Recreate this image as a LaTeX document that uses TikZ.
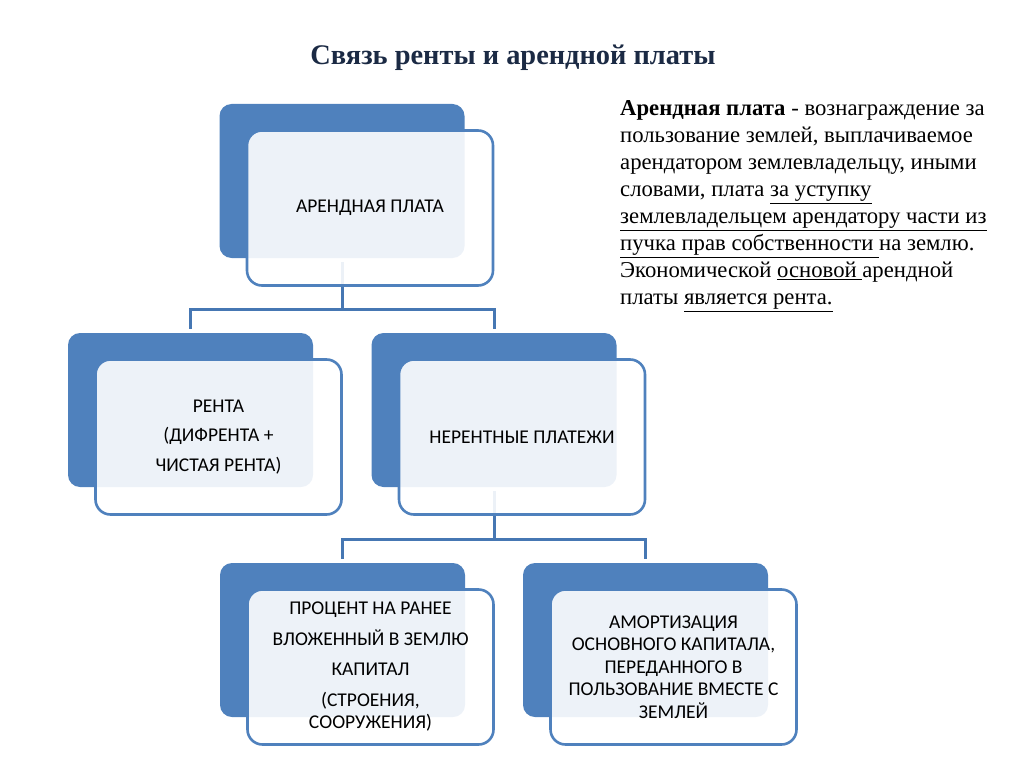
\documentclass[tikz,border=0pt]{standalone}
\usepackage{fontspec}
\setmainfont{Liberation Serif}
\setsansfont{Carlito}
\usepackage{tikz}
\usetikzlibrary{positioning, calc}
\definecolor{sblue}{HTML}{4F81BD}
\definecolor{sline}{HTML}{4677B3}
\definecolor{stitle}{HTML}{1B2A44}
\tikzset{
  backbox/.style={
    fill=sblue, draw=none, rounded corners=12pt, inner sep=0pt,
    minimum width=245pt, minimum height=154pt
  },
  frontbox/.style={
    fill=white, fill opacity=0.9, text opacity=1, draw=sblue, line width=2.6pt,
    rounded corners=15pt, inner sep=0pt, align=center,
    minimum width=246pt, minimum height=155pt,
    font=\sffamily\fontsize{19.5}{22.5}\selectfont
  },
  link/.style={draw=sline, line width=3pt},
  title/.style={font=\bfseries\fontsize{28.4}{34}\selectfont, text=stitle},
  desc/.style={font=\fontsize{22.7}{27.1}\selectfont, align=left, inner sep=0pt}
}

\begin{document}
\begin{tikzpicture}[x=1pt, y=-1pt]
  \useasboundingbox (0,0) rectangle (1024,767);
  \node[title] (title) at (513,58) {Связь ренты и арендной платы};
  % back plates
  \foreach \nm/\x/\y in {arenda/342/181, renta/190.5/410, nerent/494/410,
                         proc/342.5/640, amort/645.5/640} {
    \node[backbox] (back-\nm) at (\x,\y) {};
  }
  % tree links
  \coordinate (bus1) at (0,309);
  \coordinate (bus2) at (0,539);
  \draw[link, shorten <=4pt] (back-arenda.south) -- (back-arenda.south |- bus1);
  \draw[link, shorten <=4pt, shorten >=4pt]
    (back-renta.north) |- (back-nerent.north |- bus1) -- (back-nerent.north);
  \draw[link, shorten <=4pt] (back-nerent.south) -- (back-nerent.south |- bus2);
  \draw[link, shorten <=4pt, shorten >=4pt]
    (back-proc.north) |- (back-amort.north |- bus2) -- (back-amort.north);
  % front cards
  \node[frontbox] (arenda) at ($(back-arenda)+(28,27)$) {АРЕНДНАЯ ПЛАТА};
  \node[frontbox] (renta) at ($(back-renta)+(28,27)$)
    {РЕНТА\\[7pt](ДИФРЕНТА +\\[7pt]ЧИСТАЯ РЕНТА)};
  \node[frontbox] (nerent) at ($(back-nerent)+(28,27)$) {НЕРЕНТНЫЕ ПЛАТЕЖИ};
  \node[frontbox] (proc) at ($(back-proc)+(28,27)$)
    {ПРОЦЕНТ НА РАНЕЕ\\[8pt]ВЛОЖЕННЫЙ В ЗЕМЛЮ\\[8pt]КАПИТАЛ\\[8pt](СТРОЕНИЯ,\\СООРУЖЕНИЯ)};
  \node[frontbox] (amort) at ($(back-amort)+(28,27)$)
    {АМОРТИЗАЦИЯ\\ОСНОВНОГО КАПИТАЛА,\\ПЕРЕДАННОГО В\\ПОЛЬЗОВАНИЕ ВМЕСТЕ С\\ЗЕМЛЕЙ};
  % definition text
  \node[desc, anchor=north west] (desc) at (620,100) {%
    \textbf{Арендная плата} - вознаграждение за\\
    пользование землей, выплачиваемое\\
    арендатором землевладельцу, иными\\
    словами, плата \underline{за уступку}\\
    \underline{землевладельцем арендатору части из}\\
    \underline{пучка прав собственности }на землю.\\
    Экономической \underline{основой }арендной\\
    платы \underline{является рента.}};
\end{tikzpicture}
\end{document}
